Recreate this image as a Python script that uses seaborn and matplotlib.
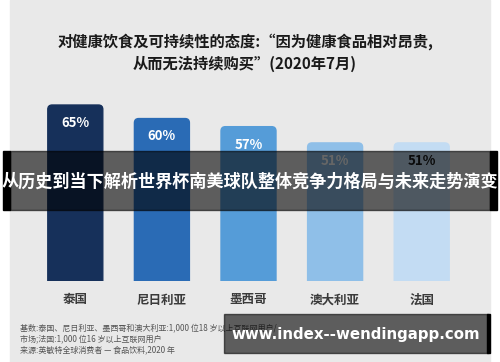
import matplotlib
matplotlib.use('Agg')
import pandas as pd
import seaborn as sns
import matplotlib.pyplot as plt
from matplotlib.patches import Rectangle, FancyBboxPatch

countries = ['泰国', '尼日利亚', '墨西哥', '澳大利亚', '法国']
shares = [65, 60, 57, 51, 51]
bar_colors = ['#16305a', '#2a6bb5', '#559cd8', '#8fbfe8', '#c3dcf3']
label_colors = ['white', 'white', 'white', 'white', '#1a1a1a']
title = '对健康饮食及可持续性的态度:“因为健康食品相对昂贵,\n从而无法持续购买”(2020年7月)'
notes = ['基数:泰国、尼日利亚、墨西哥和澳大利亚:1,000 位18 岁以上互联网用户/',
         '市场;法国:1,000 位16 岁以上互联网用户',
         '来源:英敏特全球消费者 — 食品饮料,2020 年']
banner = '从历史到当下解析世界杯南美球队整体竞争力格局与未来走势演变'
watermark = 'www.index--wendingapp.com'

sns.set_style('white')
plt.rcParams['font.family'] = ['Noto Sans CJK SC', 'DejaVu Sans']

W, H = 500, 362
fig = plt.figure(figsize=(W / 100, H / 100), dpi=100)
fig.patch.set_facecolor('white')


def box(x, y, w, h):
    # pixel box from top-left -> figure fraction
    return (x / W, 1 - (y + h) / H), w / W, h / H


xy, w, h = box(10, 0, 480, H)
fig.patches.append(Rectangle(xy, w, h, transform=fig.transFigure, color='#e9e9e9', zorder=-5))

ax = fig.add_axes([32 / W, 1 - 281 / H, 433 / W, (281 - 95) / H])
ax.set_facecolor('none')
ax.set_zorder(1)
df = pd.DataFrame({'country': countries, 'share': shares})
sns.barplot(data=df, x='country', y='share', hue='country', palette=bar_colors,
            width=0.635, legend=False, ax=ax)
ax.set_ylim(0, 68.7)
ax.set_xlim(-0.5, 4.5)

# rounded tops
for p, c in zip(list(ax.patches), bar_colors):
    x0, w0, h0 = p.get_x(), p.get_width(), p.get_height()
    p.set_visible(False)
    ax.add_patch(FancyBboxPatch((x0, -3), w0, h0 + 3,
                                boxstyle='round,pad=0,rounding_size=0.05',
                                mutation_aspect=32, color=c, zorder=2))

for i, (v, lc) in enumerate(zip(shares, label_colors)):
    ax.text(i, v - 6.6, f'{v}%', ha='center', va='center', color=lc,
            fontsize=9.5, fontweight='bold', zorder=3)

for s in ax.spines.values():
    s.set_visible(False)
ax.set_yticks([])
ax.set_xlabel('')
ax.set_ylabel('')
ax.tick_params(axis='x', length=0, pad=9)
for t in ax.get_xticklabels():
    t.set_fontsize(9)
    t.set_fontweight('bold')
    t.set_color('#3a3a3a')

fig.text(245 / W, 1 - 53 / H, title, ha='center', va='center', fontsize=11,
         fontweight='bold', color='#1a1a1a', linespacing=1.45)

for k, line in enumerate(notes):
    fig.text(20 / W, 1 - (328 + 11 * k) / H, line, ha='left', va='center',
             fontsize=5.8, color='#555555')

# banner overlay
ov = fig.add_axes([0, 0, 1, 1])
ov.set_axis_off()
ov.set_zorder(5)
ov.set_xlim(0, W)
ov.set_ylim(H, 0)
ov.add_patch(Rectangle((10, 151), 480, 59, color='black', alpha=0.6))
for bx in (3, 490):
    ov.add_patch(Rectangle((bx, 151), 7, 59, color='black'))
ov.text(250, 182, banner, ha='center', va='center', fontsize=12.3,
        fontweight='bold', color='white')

# watermark box
ov.add_patch(Rectangle((224, 314), 264, 39, color='black', alpha=0.6))
ov.add_patch(Rectangle((487, 314), 3, 39, color='black'))
ov.text(356, 334, watermark, ha='center', va='center', fontsize=10.8,
        fontweight='bold', color='white', family=['DejaVu Sans'])

fig.savefig('out.png', dpi=100)
